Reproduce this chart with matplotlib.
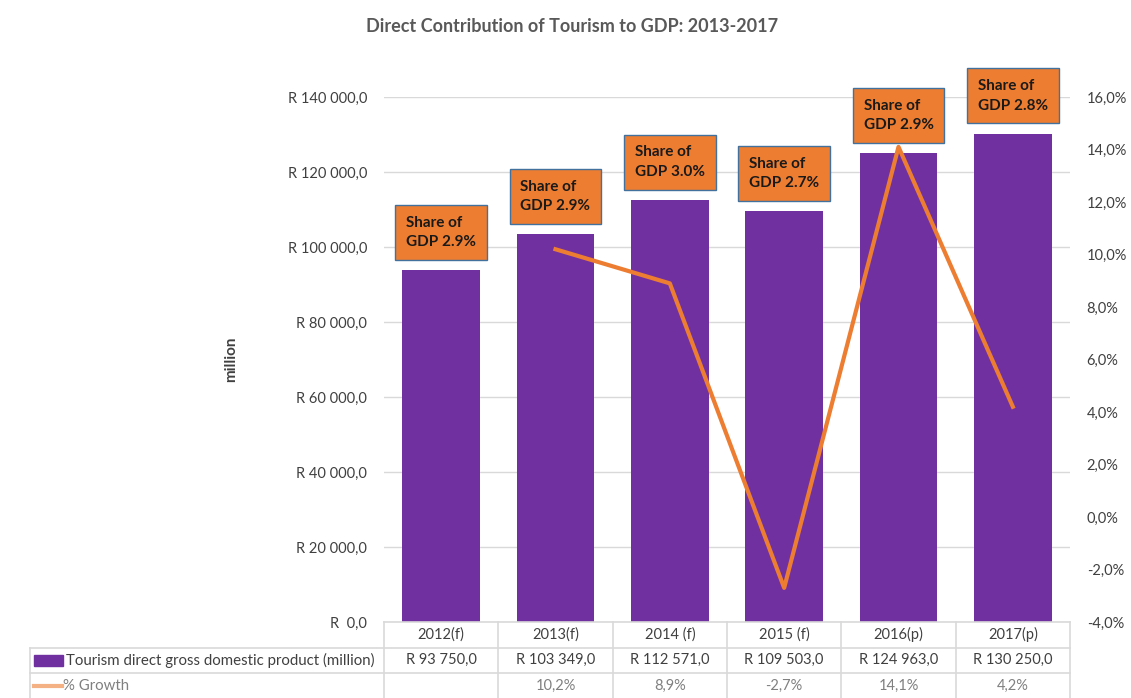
import matplotlib
matplotlib.use('Agg')
import matplotlib.pyplot as plt
from matplotlib.ticker import FuncFormatter, MultipleLocator
from matplotlib.patches import Rectangle
from matplotlib.lines import Line2D

plt.rcParams['font.family'] = ['Lato', 'DejaVu Sans']

years = ['2012(f)', '2013(f)', '2014 (f)', '2015 (f)', '2016(p)', '2017(p)']
gdp = [93750.0, 103349.0, 112571.0, 109503.0, 124963.0, 130250.0]
growth = [None, 10.2, 8.9, -2.7, 14.1, 4.2]
share = [2.9, 2.9, 3.0, 2.7, 2.9, 2.8]

purple = '#7030A0'
orange = '#ED7D31'
grid_c = '#D9D9D9'
txt = '#404040'


def rand(v):
    s = f"{v:,.1f}".replace(',', ' ').replace('.', ',')
    return "R " + s


fig = plt.figure(figsize=(11.31, 6.98), dpi=100)
W, H = 1131, 698
ax = fig.add_axes([384 / W, 76 / H, 686 / W, 525 / H])
ax2 = ax.twinx()

x = list(range(len(years)))
ax.bar(x, gdp, width=0.68, color=purple, zorder=2)
ax.set_xlim(-0.5, len(years) - 0.5)
ax.set_ylim(0, 140000)
ax.yaxis.set_major_locator(MultipleLocator(20000))
ax.yaxis.set_major_formatter(FuncFormatter(
    lambda v, p: "R  0,0" if v == 0 else rand(v)))
ax.grid(axis='y', color=grid_c, lw=1, zorder=0)
ax.set_axisbelow(True)
ax.set_xticks([])
for s in ax.spines.values():
    s.set_visible(False)
for s in ax2.spines.values():
    s.set_visible(False)
ax.tick_params(axis='y', length=0, pad=12, labelsize=10.5, labelcolor=txt)
ax.set_ylabel('million', fontsize=11, fontweight='bold', color=txt, labelpad=36)

# growth line on the secondary axis
gx = [i for i, g in zip(x, growth) if g is not None]
gy = [g for g in growth if g is not None]
ax2.plot(gx, gy, color=orange, lw=3, zorder=3)
ax2.set_ylim(-4, 16)
ax2.yaxis.set_major_locator(MultipleLocator(2))
ax2.yaxis.set_major_formatter(FuncFormatter(
    lambda v, p: f"{v:.1f}%".replace('.', ',')))
ax2.tick_params(axis='y', length=0, pad=12, labelsize=10.5, labelcolor=txt)

# share-of-GDP callouts above each bar
for i, (v, sh) in enumerate(zip(gdp, share)):
    ax2.annotate(f"Share of\nGDP {sh:.1f}%", xy=(i, v), xycoords=ax.transData,
                 xytext=(0, 21), textcoords='offset pixels',
                 ha='center', va='bottom', multialignment='left',
                 fontsize=11, fontweight='bold', color='#1a1a1a',
                 linespacing=1.5, zorder=5, annotation_clip=False,
                 bbox=dict(boxstyle='square,pad=0.7', fc=orange,
                           ec='#41719C', lw=1))

fig.text(572 / W, 1 - 27 / H, 'Direct Contribution of Tourism to GDP: 2013-2017',
         ha='center', va='center', fontsize=13, fontweight='bold', color='#595959')

# data table under the plot
tr = ax.get_xaxis_transform()
row_h = 25.5 / 525
r0, r1, r2, r3 = 0, -row_h, -2 * row_h, -3 * row_h
left_px = 30
left = -0.5 - (384 - left_px) / 686 * len(years)
kw = dict(transform=tr, clip_on=False, color=grid_c, lw=1.2)
ax.add_line(Line2D([-0.5, 5.5], [r0, r0], **kw))
ax.add_line(Line2D([left, 5.5], [r1, r1], **kw))
ax.add_line(Line2D([left, 5.5], [r2, r2], **kw))
ax.add_line(Line2D([left, left], [r1, r3], **kw))
for k in range(len(years) + 1):
    ax.add_line(Line2D([k - 0.5, k - 0.5], [r0, r3], **kw))

for i in x:
    ax.text(i, (r0 + r1) / 2, years[i], transform=tr, ha='center', va='center',
            fontsize=10.5, color=txt)
    ax.text(i, (r1 + r2) / 2, rand(gdp[i]), transform=tr, ha='center',
            va='center', fontsize=10.5, color=txt)
    if growth[i] is not None:
        ax.text(i, (r2 + r3) / 2, f"{growth[i]:.1f}%".replace('.', ','),
                transform=tr, ha='center', va='center', fontsize=10.5,
                color='#808080')

unit = len(years) / 686
ax.add_patch(Rectangle((left + 4 * unit, (r1 + r2) / 2 - 5.5 / 525), 29 * unit,
                       11 / 525, transform=tr, clip_on=False, color=purple))
ax.text(left + 36 * unit, (r1 + r2) / 2, 'Tourism direct gross domestic product (million)',
        transform=tr, ha='left', va='center', fontsize=10.8, color=txt)
ax.add_line(Line2D([left + 4 * unit, left + 32 * unit], [(r2 + r3) / 2] * 2,
                   transform=tr, clip_on=False, color='#F4B183', lw=3))
ax.text(left + 33 * unit, (r2 + r3) / 2, '% Growth', transform=tr, ha='left',
        va='center', fontsize=10.8, color='#808080')

fig.savefig('out.png', dpi=100)
